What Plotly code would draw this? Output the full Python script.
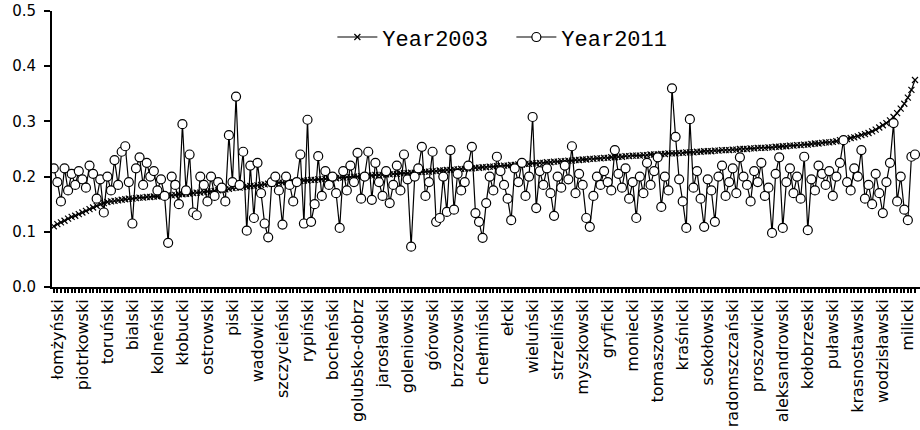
import plotly.graph_objects as go

tick_labels = ["łomżyński", "piotrkowski", "toruński", "bialski", "kolneński", "kłobucki",
               "ostrowski", "piski", "wadowicki", "szczycieński", "rypiński", "bocheński",
               "golubsko-dobrz", "jarosławski", "goleniowski", "górowski", "brzozowski",
               "chełmiński", "ełcki", "wieluński", "strzeliński", "myszkowski", "gryficki",
               "moniecki", "tomaszowski", "kraśnicki", "sokołowski", "radomszczański",
               "proszowicki", "aleksandrowski", "kołobrzeski", "puławski", "krasnostawski",
               "wodzisławski", "milicki"]
label_step = 7
label_first = 1

year2003 = [
    0.110, 0.114, 0.117, 0.120, 0.124, 0.127, 0.129, 0.132, 0.135, 0.138,
    0.141, 0.144, 0.147, 0.150, 0.152, 0.154, 0.155, 0.156, 0.157, 0.158,
    0.159, 0.160, 0.160, 0.161, 0.162, 0.162, 0.163, 0.163, 0.164, 0.164,
    0.165, 0.165, 0.166, 0.166, 0.167, 0.168, 0.168, 0.169, 0.169, 0.170,
    0.171, 0.171, 0.172, 0.173, 0.173, 0.174, 0.175, 0.176, 0.177, 0.178,
    0.179, 0.180, 0.180, 0.181, 0.182, 0.183, 0.183, 0.184, 0.185, 0.186,
    0.187, 0.187, 0.188, 0.189, 0.189, 0.190, 0.190, 0.191, 0.192, 0.192,
    0.193, 0.193, 0.194, 0.194, 0.195, 0.195, 0.196, 0.196, 0.197, 0.197,
    0.198, 0.198, 0.199, 0.199, 0.200, 0.200, 0.201, 0.201, 0.202, 0.202,
    0.203, 0.203, 0.203, 0.204, 0.204, 0.205, 0.205, 0.206, 0.206, 0.206,
    0.207, 0.207, 0.208, 0.208, 0.209, 0.209, 0.210, 0.210, 0.211, 0.211,
    0.212, 0.212, 0.213, 0.213, 0.214, 0.214, 0.215, 0.215, 0.216, 0.216,
    0.217, 0.217, 0.218, 0.218, 0.219, 0.219, 0.220, 0.220, 0.221, 0.221,
    0.222, 0.222, 0.223, 0.223, 0.224, 0.224, 0.225, 0.225, 0.226, 0.226,
    0.227, 0.227, 0.228, 0.228, 0.229, 0.229, 0.230, 0.230, 0.231, 0.231,
    0.232, 0.232, 0.233, 0.233, 0.234, 0.234, 0.235, 0.235, 0.236, 0.236,
    0.237, 0.237, 0.238, 0.238, 0.238, 0.239, 0.239, 0.240, 0.240, 0.240,
    0.241, 0.241, 0.242, 0.242, 0.242, 0.243, 0.243, 0.244, 0.244, 0.244,
    0.245, 0.245, 0.246, 0.246, 0.246, 0.247, 0.247, 0.248, 0.248, 0.248,
    0.249, 0.249, 0.250, 0.250, 0.250, 0.251, 0.251, 0.252, 0.252, 0.252,
    0.253, 0.253, 0.254, 0.254, 0.255, 0.255, 0.256, 0.256, 0.257, 0.257,
    0.258, 0.258, 0.259, 0.260, 0.260, 0.261, 0.262, 0.262, 0.263, 0.264,
    0.266, 0.267, 0.268, 0.270, 0.271, 0.273, 0.275, 0.277, 0.279, 0.282,
    0.285, 0.289, 0.293, 0.297, 0.302, 0.308, 0.315, 0.323, 0.332, 0.343,
    0.357, 0.375,
]

year2011 = [
    0.215, 0.190, 0.155, 0.215, 0.175, 0.205, 0.185, 0.210, 0.195, 0.180,
    0.220, 0.205, 0.160, 0.195, 0.135, 0.200, 0.175, 0.230, 0.185, 0.245,
    0.255, 0.190, 0.115, 0.215, 0.235, 0.185, 0.225, 0.200, 0.210, 0.175,
    0.195, 0.165, 0.080, 0.200, 0.185, 0.150, 0.295, 0.175, 0.240, 0.135,
    0.130, 0.200, 0.185, 0.155, 0.200, 0.165, 0.190, 0.180, 0.155, 0.275,
    0.190, 0.345, 0.185, 0.245, 0.102, 0.220, 0.125, 0.225, 0.170, 0.115,
    0.090, 0.190, 0.200, 0.175, 0.113, 0.200, 0.185, 0.155, 0.190, 0.240,
    0.115, 0.303, 0.118, 0.150, 0.237, 0.165, 0.210, 0.185, 0.200, 0.170,
    0.107, 0.210, 0.175, 0.220, 0.190, 0.243, 0.160, 0.200, 0.245, 0.158,
    0.225, 0.190, 0.165, 0.210, 0.152, 0.185, 0.220, 0.175, 0.240, 0.195,
    0.073, 0.200, 0.215, 0.254, 0.165, 0.190, 0.245, 0.118, 0.125, 0.200,
    0.136, 0.248, 0.140, 0.205, 0.175, 0.190, 0.220, 0.254, 0.134, 0.118,
    0.089, 0.152, 0.200, 0.175, 0.236, 0.210, 0.185, 0.160, 0.121, 0.215,
    0.190, 0.225, 0.165, 0.200, 0.308, 0.143, 0.210, 0.185, 0.215, 0.170,
    0.129, 0.200, 0.180, 0.220, 0.195, 0.255, 0.170, 0.205, 0.185, 0.125,
    0.109, 0.165, 0.200, 0.185, 0.210, 0.190, 0.175, 0.248, 0.205, 0.180,
    0.215, 0.160, 0.190, 0.125, 0.200, 0.170, 0.225, 0.185, 0.210, 0.235,
    0.145, 0.200, 0.175, 0.360, 0.272, 0.195, 0.155, 0.107, 0.304, 0.180,
    0.210, 0.160, 0.109, 0.195, 0.175, 0.118, 0.200, 0.220, 0.165, 0.190,
    0.215, 0.170, 0.235, 0.200, 0.185, 0.155, 0.210, 0.190, 0.225, 0.165,
    0.180, 0.098, 0.205, 0.235, 0.107, 0.190, 0.215, 0.170, 0.200, 0.160,
    0.236, 0.103, 0.195, 0.175, 0.220, 0.205, 0.185, 0.210, 0.165, 0.200,
    0.225, 0.266, 0.190, 0.175, 0.215, 0.200, 0.248, 0.160, 0.185, 0.150,
    0.205, 0.170, 0.134, 0.190, 0.225, 0.297, 0.155, 0.200, 0.140, 0.121,
    0.236, 0.240,
]

n = len(year2003)
x_idx = list(range(n))
tickvals = x_idx
ticktext = [""] * n
for i, name in enumerate(tick_labels):
    ticktext[label_first + i * label_step] = name

fig = go.Figure()
fig.add_trace(go.Scatter(
    x=x_idx, y=year2003, mode="lines+markers", name="Year2003",
    line=dict(color="black", width=1.2),
    marker=dict(symbol="x-thin", size=6, line=dict(color="black", width=1.2), color="black"),
))
fig.add_trace(go.Scatter(
    x=x_idx, y=year2011, mode="lines+markers", name="Year2011",
    line=dict(color="black", width=1.2),
    marker=dict(symbol="circle", size=9, color="white", line=dict(color="black", width=1.2)),
))

fig.update_layout(
    width=920, height=430,
    margin=dict(l=52, r=0, t=11, b=143),
    paper_bgcolor="white", plot_bgcolor="white",
    showlegend=True,
    legend=dict(orientation="h", x=0.323, y=0.905, xanchor="left", yanchor="middle",
                bgcolor="rgba(0,0,0,0)", font=dict(family="Liberation Mono", size=22, color="black"),
                itemwidth=40, entrywidth=124, traceorder="normal"),
    font=dict(family="DejaVu Sans", color="black"),
)
fig.update_xaxes(
    range=[-0.5, 242.4], tickmode="array", tickvals=tickvals, ticktext=ticktext,
    tickangle=-90, ticks="outside", ticklen=4, tickwidth=2, tickcolor="black",
    ticklabeloverflow="allow",
    showline=True, linecolor="black", linewidth=2, showgrid=False, zeroline=False,
    tickfont=dict(family="DejaVu Sans", size=16, color="black"), automargin=False,
)
fig.update_yaxes(
    range=[0, 0.5], dtick=0.1, tickformat=".1f", ticks="outside", ticklen=6,
    tickwidth=1.5, tickcolor="black", showline=True, linecolor="black", linewidth=2,
    showgrid=False, zeroline=False, ticklabelstandoff=5,
    tickfont=dict(family="DejaVu Sans", size=15, color="black"), automargin=False,
)

fig.write_html("out.html", config={"displayModeBar": False},
               post_script="document.body.style.margin='0';document.body.style.padding='0';")
